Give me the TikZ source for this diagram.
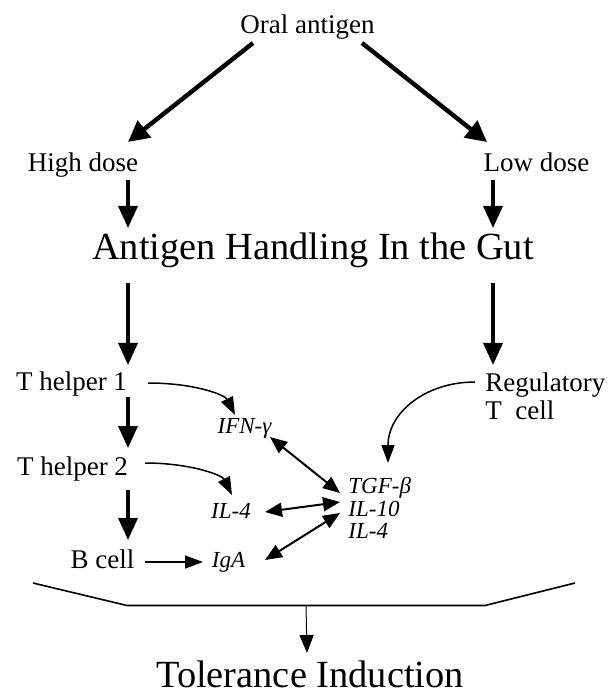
\documentclass[tikz,border=0pt]{standalone}
\usepackage{fontspec}
\setmainfont{Liberation Serif}
\usetikzlibrary{arrows.meta, calc, positioning}

\begin{document}
\begin{tikzpicture}[
  x=0.5pt, y=-0.5pt,
  cellname/.style={
    inner sep=0pt,
    font=\fontsize{13.5}{14}\selectfont
  },
  headline/.style={
    inner sep=0pt,
    font=\fontsize{19.2}{22}\selectfont
  },
  cytokine/.style={
    inner sep=0pt,
    align=left,
    font=\fontsize{11.5}{11.25}\selectfont\itshape
  },
  dosearrow/.style={
    -{Triangle[length=10.5pt,width=10.5pt]},
    line width=2.2pt
  },
  steparrow/.style={
    -{Triangle[length=11pt,width=9.5pt]},
    line width=1.7pt
  },
  feedarrow/.style={
    -{Triangle[length=9pt,width=6.5pt]},
    line width=0.75pt
  },
  linkarrow/.style={
    {Triangle[length=8.5pt,width=7pt]}-{Triangle[length=8.5pt,width=7pt]},
    line width=1pt
  },
  plainarrow/.style={
    -{Triangle[length=9pt,width=7pt]},
    line width=0.5pt
  },
  bracketline/.style={
    line width=0.8pt
  }
]

\useasboundingbox (0,0) rectangle (615,694);

\node[cellname, anchor=base] (oral) at (307.5,34) {Oral antigen};
\node[cellname, anchor=base] (high) at (83,172) {High dose};
\node[cellname, anchor=base] (low) at (536.5,172) {Low dose};
\node[headline, anchor=base] (gut) at (313,260) {Antigen Handling In the Gut};
\node[cellname, anchor=base] (th1) at (71.5,390) {T helper 1};
\node[cellname, anchor=north west, align=left] (reg) at (485,372)
  {Regulatory\\T~~cell};
\node[cellname, anchor=base] (th2) at (72.5,475) {T helper 2};
\node[cellname, anchor=base] (bcell) at (102.5,568) {B cell};
\node[cytokine, anchor=base] (ifn) at (244.5,433) {IFN-γ};
\node[cytokine, anchor=base] (il4) at (231,518) {IL-4};
\node[cytokine, anchor=base] (iga) at (228.5,567) {IgA};
\node[cytokine, anchor=north west] (cyto) at (348,477) {TGF-β\\IL-10\\IL-4};
\node[headline, anchor=base] (tol) at (310,687) {Tolerance Induction};

% dose split
\draw[dosearrow] ($(oral.base)+(-54.5,9)$) -- ($(high.base)+(45,-30)$);
\draw[dosearrow] ($(oral.base)+(54.5,9)$) -- ($(low.base)+(-49.5,-30)$);

% down the two columns
\draw[steparrow] ($(high.base)+(45,8)$) -- ($(gut.base)+(-185,-32)$);
\draw[steparrow] ($(low.base)+(-43.5,8)$) -- ($(gut.base)+(180,-32)$);
\draw[steparrow] ($(gut.base)+(-185,23)$) -- ($(th1.base)+(56.5,-25)$);
\draw[steparrow] ($(gut.base)+(180,23)$) -- ($(reg.north west)+(8,-7)$);
\draw[steparrow] ($(th1.base)+(56.5,7)$) -- ($(th2.base)+(55.5,-27)$);
\draw[steparrow] ($(th2.base)+(55.5,15)$) -- ($(bcell.base)+(25.5,-28)$);
\draw[feedarrow] ($(bcell.base)+(42.5,-6)$) -- ($(iga.base)+(-25.5,-5)$);

% cytokine output
\draw[feedarrow] ($(th1.base)+(76.5,-7)$) .. controls +(47,0) and +(-10,-20)
  .. ($(ifn.base)+(-9.5,-18)$);
\draw[feedarrow] ($(th2.base)+(72.5,-12)$) .. controls +(45,0) and +(-10,-20)
  .. ($(il4.base)+(1,-23)$);
\draw[feedarrow] ($(reg.north west)+(-10,10)$) .. controls +(-50,0) and +(0,-50)
  .. ($(cyto.north west)+(40,-14)$);

\draw[linkarrow] ($(ifn.base)+(25.5,4)$) -- ($(cyto.north west)+(-8,16)$);
\draw[linkarrow] ($(il4.base)+(34,-6)$) -- ($(cyto.north west)+(-8,25)$);
\draw[linkarrow] ($(iga.base)+(36.5,-7)$) -- ($(cyto.north west)+(-8,36)$);

% bracket
\coordinate (brL) at (33,583);
\coordinate (brA) at (127,605.5);
\coordinate (brB) at (485,605.5);
\coordinate (brR) at (575,583);
\draw[bracketline] (brL) -- (brA) -- (brB) -- (brR);
\coordinate (brM) at ($(brA)!0.5!(brB)$);
\draw[plainarrow] (brM) -- ($(tol.base)+(-3,-34)$);

\end{tikzpicture}
\end{document}
